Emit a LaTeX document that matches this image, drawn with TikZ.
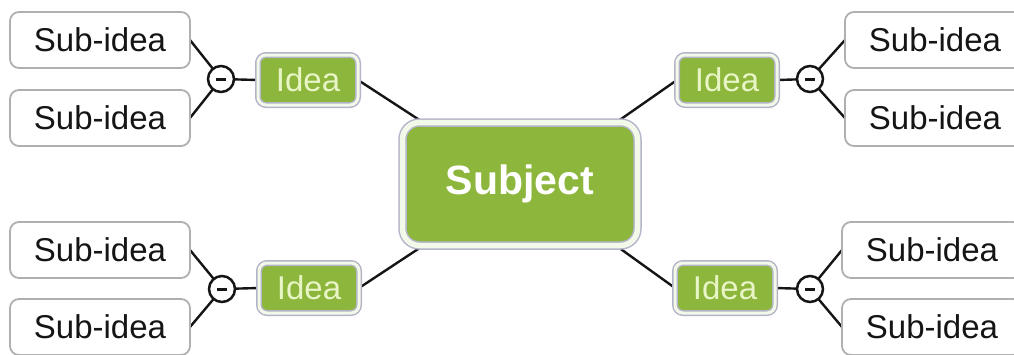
\documentclass[tikz,border=0pt]{standalone}
\usepackage{fontspec}
\setmainfont{Liberation Sans}
\usetikzlibrary{backgrounds}
\definecolor{leaf}{HTML}{8DB63C}
\definecolor{subborder}{HTML}{B0B0B0}
\definecolor{ideaborder}{HTML}{B4B4C8}
\definecolor{idealight}{HTML}{F3F9E8}
\definecolor{ideatext}{HTML}{E8F5C6}
\definecolor{ink}{HTML}{151515}
\tikzset{
  subbox/.style={draw=subborder, line width=1.8pt, fill=white, rounded corners=9pt,
    minimum width=180pt, minimum height=56pt, inner sep=0pt, outer sep=0pt,
    text=ink, font=\fontsize{33}{36}\selectfont},
  ideabox/.style={draw=ideaborder, line width=1.5pt, double=idealight, double distance=3pt,
    fill=leaf, rounded corners=8pt, minimum width=100pt, minimum height=50pt,
    inner sep=0pt, outer sep=0pt, text=ideatext, font=\fontsize{33}{36}\selectfont},
  subjbox/.style={draw=ideaborder, line width=1.5pt, double=idealight, double distance=5.5pt,
    fill=leaf, rounded corners=17pt, minimum width=235pt, minimum height=123pt,
    inner sep=0pt, outer sep=0pt, text=white, font=\bfseries\fontsize{41}{44}\selectfont},
  knot/.style={circle, draw=ink, line width=2.5pt, fill=white, minimum size=26pt,
    inner sep=0pt, outer sep=0pt},
  link/.style={draw=ink, line width=2.4pt},
  minus/.style={draw=ink, line width=3pt}
}
\begin{document}
\begin{tikzpicture}[x=1pt, y=-1pt]
\useasboundingbox (0,0) rectangle (1014,354);
% subject
\node[subjbox] (subj) at (520,184) {Subject};
% top-left
\node[subbox] (tl1) at (100,40) {Sub-idea};
\node[subbox] (tl2) at (100,118) {Sub-idea};
\node[knot] (tlc) at (221,79) {};
\node[ideabox] (tli) at (308,80) {Idea};
% bottom-left
\node[subbox] (bl1) at (100,250) {Sub-idea};
\node[subbox] (bl2) at (100,327) {Sub-idea};
\node[knot] (blc) at (222,289) {};
\node[ideabox] (bli) at (309,288) {Idea};
% top-right
\node[subbox] (tr1) at (935,40) {Sub-idea};
\node[subbox] (tr2) at (935,118) {Sub-idea};
\node[knot] (trc) at (810,79) {};
\node[ideabox] (tri) at (727,80) {Idea};
% bottom-right
\node[subbox] (br1) at (932,250) {Sub-idea};
\node[subbox] (br2) at (932,327) {Sub-idea};
\node[knot] (brc) at (810,289) {};
\node[ideabox] (bri) at (725,288) {Idea};
% minus signs
\foreach \c in {tlc,blc,trc,brc}{
  \draw[minus] ([xshift=-5pt]\c.center) -- ([xshift=5pt]\c.center);
}
\begin{scope}[on background layer]
  \draw[link] (tli.east) -- ([xshift=30pt,yshift=-6pt]subj.north west);
  \draw[link] (tri.west) -- ([xshift=-30pt,yshift=-6pt]subj.north east);
  \draw[link] (bli.east) -- ([xshift=30pt,yshift=6pt]subj.south west);
  \draw[link] (bri.west) -- ([xshift=-30pt,yshift=6pt]subj.south east);
  \draw[link] (tl1.east) -- (tlc.center);
  \draw[link] (tl2.east) -- (tlc.center);
  \draw[link] (tlc.center) -- (tli.west);
  \draw[link] (bl1.east) -- (blc.center);
  \draw[link] (bl2.east) -- (blc.center);
  \draw[link] (blc.center) -- (bli.west);
  \draw[link] (tr1.west) -- (trc.center);
  \draw[link] (tr2.west) -- (trc.center);
  \draw[link] (trc.center) -- (tri.east);
  \draw[link] (br1.west) -- (brc.center);
  \draw[link] (br2.west) -- (brc.center);
  \draw[link] (brc.center) -- (bri.east);
\end{scope}
\end{tikzpicture}
\end{document}
